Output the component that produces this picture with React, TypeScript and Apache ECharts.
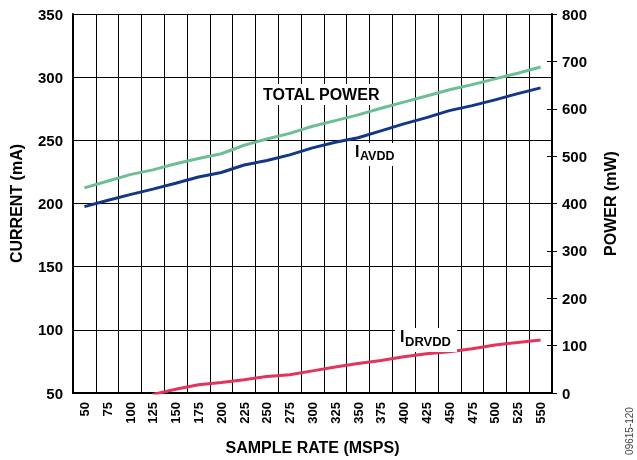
import React, { useEffect, useRef } from "react";
import * as echarts from "echarts";

const sampleRates = ["50", "75", "100", "125", "150", "175", "200", "225", "250", "275", "300", "325", "350", "375", "400", "425", "450", "475", "500", "525", "550"];
const totalPowerMw = [433, 447, 461, 471, 484, 495, 505, 523, 536, 548, 563, 575, 587, 601, 614, 627, 640, 651, 663, 675, 688];
const iAvddMa = [197.5, 202.4, 207, 211.4, 216, 221, 224.5, 230.5, 234, 238.5, 244, 248.5, 252, 257.5, 263, 268, 273.5, 277.5, 282, 287, 291.5];
const iDrvddMa = [null, null, null, 48.8, 53, 56.5, 58.3, 60.5, 63, 64.5, 67.5, 70.5, 73.3, 75.7, 78.7, 81, 82.7, 85, 88, 90, 92];

const FONT = '"Liberation Sans", Arial, sans-serif';

export default function App() {
  const ref = useRef<HTMLDivElement>(null);
  useEffect(() => {
    const chart = echarts.init(ref.current!, null, { renderer: "svg" });
    const labelStyle = { color: "#000", fontWeight: "bold", fontFamily: FONT, fontSize: 15 };
    const nameStyle = { color: "#000", fontWeight: "bold", fontFamily: FONT, fontSize: 16 };
    chart.setOption({
      animation: false,
      grid: { left: 72, top: 14, right: 85, bottom: 64, containLabel: false },
      xAxis: [
        {
          type: "category",
          data: sampleRates,
          boundaryGap: true,
          axisLine: { lineStyle: { color: "#000", width: 2 } },
          axisTick: { show: false },
          splitLine: { show: true, interval: 0, lineStyle: { color: "#000", width: 1 } },
          axisLabel: { ...labelStyle, fontSize: 13, rotate: 90, interval: 0, margin: 9 },
          name: "SAMPLE RATE (MSPS)",
          nameLocation: "middle",
          nameGap: 46,
          nameTextStyle: nameStyle,
        },
        {
          type: "category",
          data: sampleRates,
          position: "top",
          axisLine: { lineStyle: { color: "#000", width: 2 } },
          axisTick: { show: false },
          axisLabel: { show: false },
          splitLine: { show: false },
        },
      ],
      yAxis: [
        {
          type: "value",
          position: "left",
          min: 50,
          max: 350,
          interval: 50,
          axisLine: { show: true, lineStyle: { color: "#000", width: 2 } },
          axisTick: { show: false },
          splitLine: { show: true, lineStyle: { color: "#000", width: 1 } },
          axisLabel: { ...labelStyle, margin: 10 },
          name: "CURRENT (mA)",
          nameLocation: "middle",
          nameGap: 49,
          nameTextStyle: nameStyle,
        },
        {
          type: "value",
          position: "right",
          min: 0,
          max: 800,
          interval: 100,
          axisLine: { show: true, lineStyle: { color: "#000", width: 2 } },
          axisTick: { show: true, length: 5, lineStyle: { color: "#000", width: 1 } },
          splitLine: { show: false },
          axisLabel: { ...labelStyle, margin: 10 },
          name: "POWER (mW)",
          nameLocation: "middle",
          nameGap: 50,
          nameRotate: 90,
          nameTextStyle: nameStyle,
        },
        {
          type: "value",
          position: "right",
          min: 0,
          max: 800,
          interval: 100,
          axisLine: { show: false },
          axisTick: { show: true, inside: true, length: 5, lineStyle: { color: "#000", width: 1 } },
          splitLine: { show: false },
          axisLabel: { show: false },
        },
      ],
      series: [
        {
          name: "TOTAL POWER",
          type: "line",
          yAxisIndex: 1,
          data: totalPowerMw,
          symbol: "none",
          lineStyle: { color: "#6cbf94", width: 3 },
        },
        {
          name: "IAVDD",
          type: "line",
          yAxisIndex: 0,
          data: iAvddMa,
          symbol: "none",
          lineStyle: { color: "#10378a", width: 3 },
        },
        {
          name: "IDRVDD",
          type: "line",
          yAxisIndex: 0,
          data: iDrvddMa,
          symbol: "none",
          clip: true,
          lineStyle: { color: "#e2355c", width: 3 },
        },
      ],
      graphic: [
        { type: "rect", shape: { x: 258, y: 84, width: 130, height: 21 }, style: { fill: "#fff" }, z: 100 },
        {
          type: "text", x: 263, y: 86, z: 101,
          style: { text: "TOTAL POWER", font: `bold 16px ${FONT}`, fill: "#000", verticalAlign: "top" },
        },
        { type: "rect", shape: { x: 351, y: 143, width: 50, height: 23 }, style: { fill: "#fff" }, z: 100 },
        {
          type: "text", x: 355, y: 143, z: 101,
          style: { text: "I", font: `bold 16px ${FONT}`, fill: "#000", verticalAlign: "top" },
        },
        {
          type: "text", x: 360, y: 149, z: 101,
          style: { text: "AVDD", font: `bold 12.5px ${FONT}`, fill: "#000", verticalAlign: "top" },
        },
        { type: "rect", shape: { x: 395, y: 328, width: 62, height: 24 }, style: { fill: "#fff" }, z: 100 },
        {
          type: "text", x: 400, y: 328, z: 101,
          style: { text: "I", font: `bold 16px ${FONT}`, fill: "#000", verticalAlign: "top" },
        },
        {
          type: "text", x: 405, y: 335, z: 101,
          style: { text: "DRVDD", font: `bold 13px ${FONT}`, fill: "#000", verticalAlign: "top" },
        },
        {
          type: "text", x: 629, y: 431, rotation: Math.PI / 2, z: 101,
          style: { text: "09615-120", font: `10px ${FONT}`, fill: "#444", align: "center", verticalAlign: "middle" },
        },
      ],
    });
    return () => chart.dispose();
  }, []);
  return <div ref={ref} style={{ position: "fixed", left: 0, top: 0, width: 637, height: 460 }} />;
}
